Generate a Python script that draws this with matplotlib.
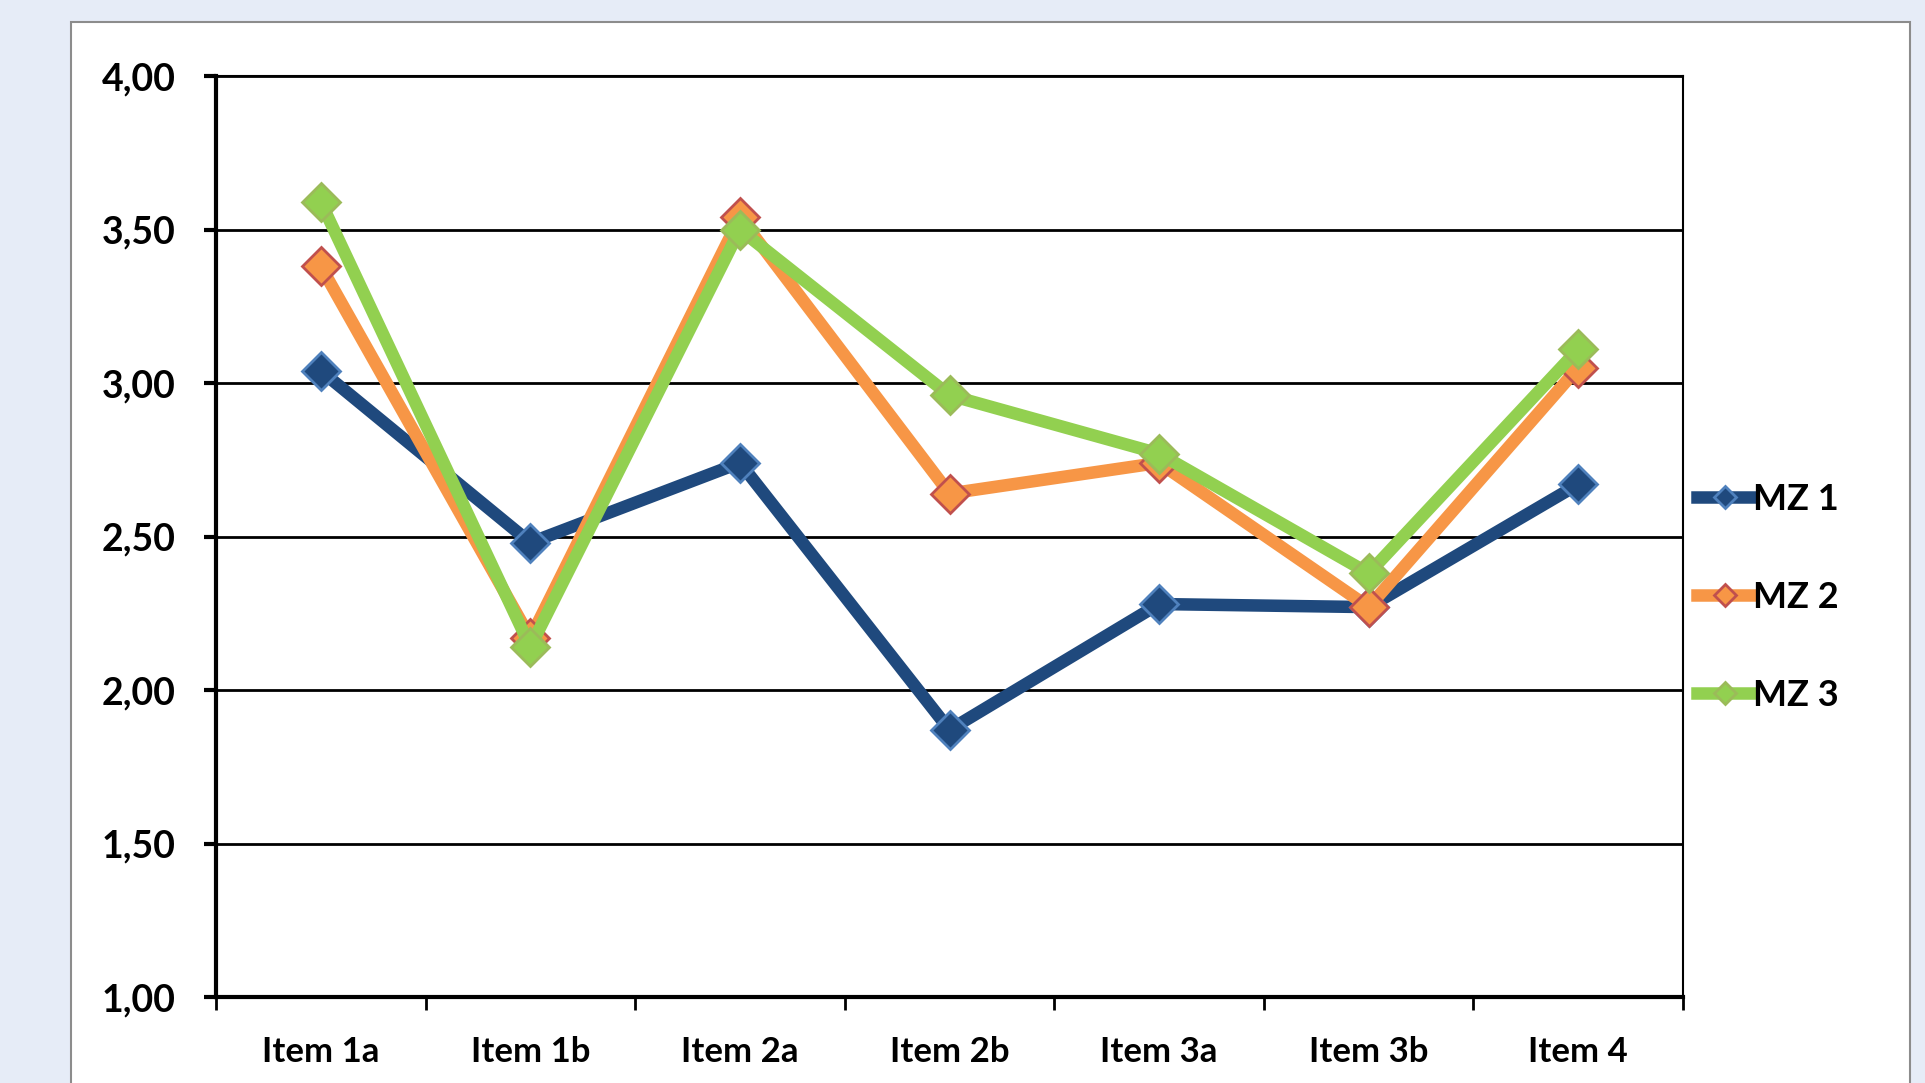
import matplotlib
matplotlib.use("Agg")
import matplotlib.pyplot as plt
from matplotlib.patches import Rectangle

categories = ["Item 1a", "Item 1b", "Item 2a", "Item 2b", "Item 3a", "Item 3b", "Item 4"]
series_names = ["MZ 1", "MZ 2", "MZ 3"]
mz1 = [3.04, 2.48, 2.74, 1.87, 2.28, 2.27, 2.67]
mz2 = [3.38, 2.17, 3.54, 2.64, 2.74, 2.27, 3.05]
mz3 = [3.59, 2.14, 3.50, 2.96, 2.77, 2.38, 3.11]
y_ticks = [1.0, 1.5, 2.0, 2.5, 3.0, 3.5, 4.0]
y_tick_labels = ["1,00", "1,50", "2,00", "2,50", "3,00", "3,50", "4,00"]

line_colors = ["#1F497D", "#F79646", "#92D050"]
edge_colors = ["#4F81BD", "#C0504D", "#9BBB59"]

plt.rcParams['font.family'] = ['Lato', 'DejaVu Sans']
plt.rcParams['font.weight'] = 'bold'

W, H = 1925, 1083
fig = plt.figure(figsize=(W / 100, H / 100), dpi=100)
fig.patch.set_facecolor("#E6ECF7")

# white chart panel
panel = Rectangle((71 / W, -0.02), (1910 - 71) / W, 1 - 22 / H + 0.02,
                  transform=fig.transFigure, facecolor="white",
                  edgecolor="#8C8C8C", linewidth=1.5, zorder=-5)
fig.patches.append(panel)

ax = fig.add_axes([216 / W, 1 - 997 / H, (1683 - 216) / W, (997 - 76) / H])
ax.set_facecolor("none")
ax.set_zorder(2)

x = list(range(len(categories)))
for vals, name, lc, ec in zip([mz1, mz2, mz3], series_names, line_colors, edge_colors):
    ax.plot(x, vals, color=lc, linewidth=9, marker="D", markersize=19,
            markerfacecolor=lc, markeredgecolor=ec, markeredgewidth=2,
            label=name, solid_joinstyle="miter", zorder=3)

ax.set_xlim(-0.5, len(categories) - 0.5)
ax.set_ylim(1.0, 4.0)

ax.set_yticks(y_ticks)
ax.set_yticklabels(y_tick_labels, fontsize=27, fontweight="bold")
ax.yaxis.grid(True, color="black", linewidth=2)
ax.set_axisbelow(True)
ax.tick_params(axis="y", direction="out", length=9, width=3, pad=20, color="black")

ax.set_xticks([i - 0.5 for i in range(len(categories) + 1)])
ax.set_xticklabels([])
ax.set_xticks(x, minor=True)
ax.set_xticklabels(categories, minor=True, fontsize=25, fontweight="bold")
ax.tick_params(axis="x", which="major", direction="out", length=9, width=2, color="black")
ax.tick_params(axis="x", which="minor", length=0, pad=28)

ax.spines["left"].set_linewidth(3)
ax.spines["bottom"].set_linewidth(3)
ax.spines["right"].set_linewidth(1.5)
ax.spines["top"].set_linewidth(1.5)
for s in ax.spines.values():
    s.set_color("black")

leg = ax.legend(loc="center left", bbox_to_anchor=(1697 / W, 1 - 597 / H),
                bbox_transform=fig.transFigure, frameon=False,
                prop={"size": 26, "weight": "bold"}, handlelength=1.55,
                handletextpad=0.0, labelspacing=1.8, markerscale=0.6,
                borderaxespad=0, borderpad=0)

fig.savefig("out.png", dpi=100, facecolor=fig.get_facecolor())
